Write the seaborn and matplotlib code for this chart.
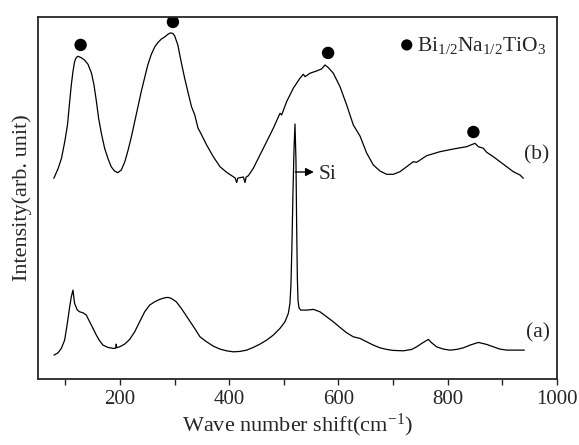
import matplotlib
matplotlib.use("Agg")
import matplotlib.pyplot as plt
import seaborn as sns
import pandas as pd

# spectrum (b): BNT film
b_x = [79, 87, 93, 99, 104, 108, 111, 114, 117, 120, 123, 129, 135, 141.5, 148, 152.5, 157, 161, 166, 172,
       178, 184, 190, 196, 202.5, 209, 215, 221, 227, 233, 239, 245, 251, 257.5, 264, 270, 276, 282, 288, 291,
       294, 297, 300, 306, 312, 318.5, 325, 331, 337, 343, 346.5, 358.7, 370.9, 383.1, 395.3, 407.5, 411, 413.6, 416, 419.7,
       426, 428.9, 431, 435, 444.1, 456.3, 468.5, 480.7, 493, 496, 505.1, 517.3, 529.5, 535.7, 538.7, 547.9, 560, 569.2, 575.3, 581.4,
       590.6, 602.8, 615, 627.2, 639.4, 651.6, 663.8, 676, 688.2, 700.4, 712.6, 724.8, 737, 743.1, 761.4, 785.8, 810.2, 834.7,
       849.9, 856, 865.2, 871.3, 883.5, 895.7, 907.9, 920.1, 932.3, 938.4]
b_y = [200.7, 210.7, 220.7, 237.3, 254, 277.3, 294, 307.3, 317.3, 321.3, 322.7, 321.3, 319, 314.7, 305.7, 294, 277.3, 260.7, 245.7, 230.7,
       220.7, 212.3, 208, 206.3, 209, 217.3, 229, 242.3, 257.3, 272.3, 287.3, 300.7, 314, 324.7, 332.3, 336.7, 340, 342, 344.7, 345.7,
       346, 345.3, 343.3, 334, 317.3, 300.7, 285.7, 272.3, 264, 250.7, 247.3, 234, 222.3, 212.3, 206.7, 202.3, 201, 196.5, 201, 201.3,
       202, 196.5, 202, 203.3, 210.7, 224, 237.3, 250.7, 265.7, 264, 277.3, 290.7, 300.7, 304.7, 302.3, 305.7, 308, 310, 314, 311.3,
       305.7, 292.3, 274, 254, 243, 226, 214, 208, 204.7, 204.7, 207.3, 212.3, 217.3, 216.7, 223.3, 227.3, 230, 232.3,
       235.7, 232.3, 230.7, 226.7, 222.3, 217.3, 212.3, 207.3, 204, 200.7]

# spectrum (a): with Si substrate peak
a_x = [79.3, 86.6, 92.7, 98.8, 103.7, 108, 111, 114, 117, 122, 126.3, 132.4, 138.5, 144.6, 150.7, 156.8, 162.9, 169, 178.1, 187.3,
       192.5, 193.2, 194, 199.5, 208.6, 217.8, 227, 236.1, 245.3, 254.4, 263.6, 272.7, 281.9, 288, 294, 303.2, 312.4, 324.6, 336.8,
       346.5, 358.7, 370.9, 383.1, 395.3, 407.5, 419.7, 431.9, 444.1, 456.3, 468.5, 480.7, 492.9, 502.1, 508.2, 511.2, 513.1, 514.9,
       516.7, 518.6, 520.4, 522.2, 523.5, 524.7, 525.9, 527.7, 530.8, 541.8, 554, 566.2, 578.4, 590.6, 602.8, 615, 627.2,
       639.4, 651.6, 663.8, 676, 688.2, 700.4, 718.7, 734, 743.1, 752.3, 764.5, 770.6, 779.7, 792, 804.1, 816.3, 828.6, 840.8,
       856, 871.3, 883.5, 895.7, 907.9, 926.2, 940.2]
a_y = [24, 26.3, 30.7, 39, 55.7, 72.3, 82.3, 89, 75.7, 69, 67.3, 66.3, 64, 57.3, 50.7, 44, 38.3, 34, 31.7, 30.7,
       31, 35, 31.5, 32.3, 35, 39.7, 47.3, 57.3, 67.3, 74, 77.3, 79.7, 81.3, 81.7, 80.7, 77.3, 70.7, 60.7, 50.7,
       42.3, 37.3, 33, 30, 28.3, 27.3, 27.7, 29, 31.7, 35, 39, 44, 50.7, 57.3, 65.7, 75.7, 95.7, 135.7,
       185.7, 229, 255, 219, 152.3, 102.3, 79, 71.3, 69, 69, 69.7, 67.3, 62.3, 57.3, 51.7, 46.3, 42.3,
       40.7, 37.3, 34, 31.3, 29.7, 28.7, 28.3, 29.7, 32.3, 35.7, 39.7, 36.3, 32.3, 30, 29, 29.7, 31.3, 34,
       36.7, 34.7, 32.3, 30, 29, 29, 29]

# BNT peak markers
m_x = [128, 297, 581, 847]
m_y = [334, 357, 326, 247]

sns.set_style("ticks")
plt.rcParams['font.family'] = ['Liberation Serif', 'DejaVu Serif']
plt.rcParams['mathtext.fontset'] = 'custom'
plt.rcParams['mathtext.rm'] = 'Liberation Serif'
plt.rcParams['mathtext.default'] = 'regular'

fig = plt.figure(figsize=(5.79, 4.45), dpi=100)
ax = fig.add_axes([0.0656, 0.148, 0.8964, 0.814])

df_b = pd.DataFrame({'x': b_x, 'y': b_y})
df_a = pd.DataFrame({'x': a_x, 'y': a_y})
sns.lineplot(data=df_b, x='x', y='y', ax=ax, color='black', lw=0.9, sort=False)
sns.lineplot(data=df_a, x='x', y='y', ax=ax, color='black', lw=0.9, sort=False)
sns.scatterplot(x=m_x, y=m_y, ax=ax, color='black', s=80, edgecolor='none')

# legend-like label
ax.scatter([725], [334], color='black', s=65, edgecolor='none')
ax.text(744, 333, 'Bi$_{1/2}$Na$_{1/2}$TiO$_3$', fontsize=15.5, va='center', ha='left')

ax.text(962, 224, '(b)', fontsize=15.5, va='center', ha='center')
ax.text(965, 46, '(a)', fontsize=15.5, va='center', ha='center')

ax.annotate('', xy=(560, 207), xytext=(516, 207),
            arrowprops=dict(arrowstyle='-|>', color='black', lw=1, mutation_scale=12))
ax.text(564, 205, 'Si', fontsize=15.5, va='center', ha='left')

ax.set_xlim(50, 1000)
ax.set_ylim(0, 362)
ax.set_xticks([200, 400, 600, 800, 1000])
ax.set_xticks([100, 300, 500, 700, 900], minor=True)
ax.set_yticks([])
ax.tick_params(axis='x', which='both', direction='out', length=4, width=1, labelsize=15)
ax.set_xlabel('Wave number shift(cm$^{-1}$)', fontsize=16, labelpad=2)
ax.set_ylabel('Intensity(arb. unit)', fontsize=16, labelpad=4)
for s in ax.spines.values():
    s.set_linewidth(1.3)
    s.set_visible(True)

plt.savefig('out.png', dpi=100)
plt.close()
